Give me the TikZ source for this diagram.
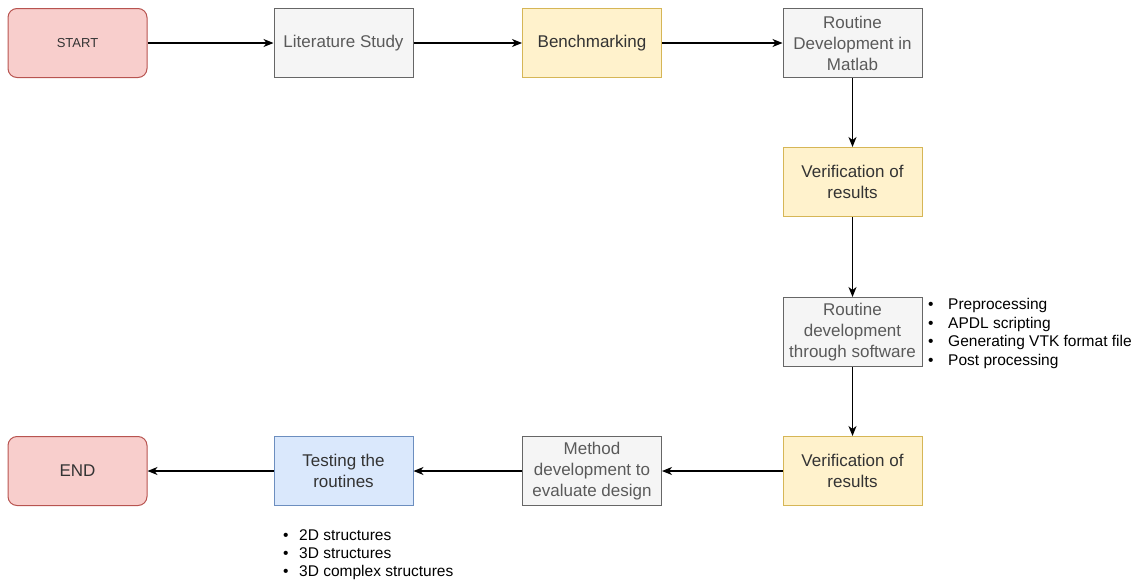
\documentclass[tikz,border=0pt]{standalone}
\usepackage{fontspec}
\setmainfont{Liberation Sans}
\usetikzlibrary{arrows.meta}
\definecolor{pinkfill}{HTML}{F8CECC}
\definecolor{pinkline}{HTML}{B85450}
\definecolor{grayfill}{HTML}{F5F5F5}
\definecolor{grayline}{HTML}{666666}
\definecolor{yelfill}{HTML}{FFF2CC}
\definecolor{yelline}{HTML}{D6B656}
\definecolor{bluefill}{HTML}{DAE8FC}
\definecolor{blueline}{HTML}{6C8EBF}
\definecolor{darktext}{HTML}{333333}
\definecolor{graytext}{HTML}{5A5A5A}
\tikzset{
  box/.style={draw, line width=1pt, minimum width=139pt, minimum height=69pt,
    align=center, inner sep=2pt, text=darktext,
    font=\fontsize{17}{21}\selectfont},
  terminal/.style={box, rounded corners=9pt, fill=pinkfill, draw=pinkline},
  graybox/.style={box, fill=grayfill, draw=grayline, text=graytext},
  yelbox/.style={box, fill=yelfill, draw=yelline},
  bluebox/.style={box, fill=bluefill, draw=blueline},
  flow/.style={-{Stealth[length=10pt,width=8pt,inset=3pt]}, line width=1.1pt, black},
  bullets/.style={align=left, inner sep=0pt, text=black,
    font=\fontsize{15.5}{18.6}\selectfont}
}
\begin{document}
\begin{tikzpicture}[x=1pt,y=-1pt]
\useasboundingbox (0,0) rectangle (1145,581);

% top row
\node[terminal, font=\fontsize{13}{16}\selectfont] (start) at (77.5,43) {START};
\node[graybox] (lit) at (343.5,43) {Literature Study};
\node[yelbox] (bench) at (592,43) {Benchmarking};
\node[graybox] (matlab) at (852.5,43) {Routine\\Development in\\Matlab};

% right column
\node[yelbox] (verif1) at (852.5,182) {Verification of\\results};
\node[graybox] (soft) at (852.5,332) {Routine\\development\\through software};
\node[yelbox] (verif2) at (852.5,471) {Verification of\\results};

% bottom row
\node[graybox] (method) at (592,471) {Method\\development to\\evaluate design};
\node[bluebox] (test) at (343.5,471) {Testing the\\routines};
\node[terminal] (finish) at (77.5,471) {END};

% bullet notes
\node[bullets, anchor=north west] (softlist) at (928,298)
  {\makebox[20pt][l]{•}Preprocessing\\
   \makebox[20pt][l]{•}APDL scripting\\
   \makebox[20pt][l]{•}Generating VTK format file\\
   \makebox[20pt][l]{•}Post processing};
\node[bullets, anchor=north west, font=\fontsize{15.5}{18}\selectfont] (testlist) at (283,529)
  {\makebox[16pt][l]{•}2D structures\\
   \makebox[16pt][l]{•}3D structures\\
   \makebox[16pt][l]{•}3D complex structures};

% connectors
\draw[flow] (start) -- (lit);
\draw[flow] (lit) -- (bench);
\draw[flow] (bench) -- (matlab);
\draw[flow] (matlab) -- (verif1);
\draw[flow] (verif1) -- (soft);
\draw[flow] (soft) -- (verif2);
\draw[flow] (verif2) -- (method);
\draw[flow] (method) -- (test);
\draw[flow] (test) -- (finish);
\end{tikzpicture}
\end{document}
